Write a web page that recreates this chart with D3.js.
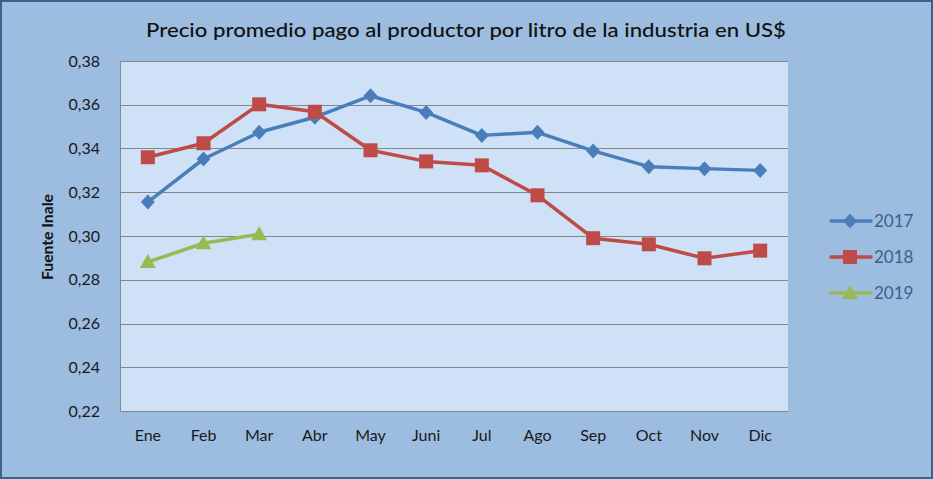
<!DOCTYPE html>
<html><head><meta charset="utf-8">
<script src="https://cdn.jsdelivr.net/npm/d3@7"></script>
<style>body{margin:0;background:#fff}svg{display:block}</style>
</head><body>
<script>
const months = ["Ene","Feb","Mar","Abr","May","Juni","Jul","Ago","Sep","Oct","Nov","Dic"];
const s2017 = [0.3155,0.3352,0.3474,0.3543,0.3641,0.3565,0.3460,0.3474,0.3389,0.3317,0.3308,0.3300];
const s2018 = [0.3360,0.3424,0.3602,0.3568,0.3392,0.3341,0.3323,0.3186,0.2990,0.2962,0.2898,0.2933];
const s2019 = [0.2881,0.2967,0.3008];
const yTicks = [0.22,0.24,0.26,0.28,0.30,0.32,0.34,0.36,0.38];
const seriesNames = ["2017","2018","2019"];
const title = "Precio promedio pago al productor por litro de la industria en US$";
const yTitle = "Fuente Inale";

const W=933,H=479;
const svg=d3.select("body").append("svg").attr("width",W).attr("height",H);
svg.append("rect").attr("x",1).attr("y",1).attr("width",W-2).attr("height",H-2)
  .attr("fill","#9cbce0").attr("stroke","#3b6190").attr("stroke-width",2);

const m={l:120,r:788,t:61,b:411};
const x=d3.scaleBand().domain(months).range([m.l,m.r]);
const y=d3.scaleLinear().domain([0.22,0.38]).range([m.b,m.t]);

svg.append("rect").attr("x",m.l).attr("y",m.t).attr("width",m.r-m.l).attr("height",m.b-m.t).attr("fill","#cfe1f6");

svg.append("g").selectAll("line").data(yTicks.filter(d=>d>0.22)).join("line")
  .attr("x1",m.l).attr("x2",m.r).attr("y1",d=>Math.round(y(d))+0.5).attr("y2",d=>Math.round(y(d))+0.5)
  .attr("stroke","#878787").attr("stroke-width",1);

const font="Lato, 'Open Sans', sans-serif";
const yAxis=svg.append("g").attr("transform",`translate(${m.l},0)`)
  .call(d3.axisLeft(y).tickValues(yTicks).tickSize(0).tickPadding(20).tickFormat(d=>d3.format(".2f")(d).replace(".",",")));
yAxis.select(".domain").attr("stroke","#878787");
yAxis.selectAll("text").attr("font-family",font).attr("font-size",16).attr("fill","#1a1a1a");

const xAxis=svg.append("g").attr("transform",`translate(0,${m.b})`)
  .call(d3.axisBottom(x).tickSize(0).tickPadding(19));
xAxis.select(".domain").attr("stroke","#878787");
xAxis.selectAll("text").attr("font-family",font).attr("font-size",16).attr("fill","#1a1a1a");

svg.append("text").attr("x",466).attr("y",37).attr("text-anchor","middle")
  .attr("font-family",font).attr("font-size",19).attr("font-weight",500)
  .attr("textLength",640).attr("lengthAdjust","spacingAndGlyphs").attr("fill","#111").text(title);

svg.append("text").attr("transform","translate(53,237) rotate(-90)").attr("text-anchor","middle")
  .attr("font-family",font).attr("font-size",15).attr("font-weight",700).attr("fill","#111")
  .attr("textLength",86).attr("lengthAdjust","spacingAndGlyphs").text(yTitle);

const colors=["#4a7ebb","#be4b48","#98b954"];
const data=[s2017,s2018,s2019];
const diamond={draw(c){c.moveTo(0,-7.5);c.lineTo(7,0);c.lineTo(0,7.5);c.lineTo(-7,0);c.closePath();}};
const square={draw(c){c.rect(-7,-7,14,14);}};
const tri={draw(c){c.moveTo(0,-8);c.lineTo(8,6);c.lineTo(-8,6);c.closePath();}};
const shapes=[diamond,square,tri];
const line=d3.line().x((d,i)=>x(months[i])+x.bandwidth()/2).y(d=>y(d));
data.forEach((s,k)=>{
  svg.append("path").datum(s).attr("d",line).attr("fill","none").attr("stroke",colors[k]).attr("stroke-width",3.5).attr("stroke-linejoin","round");
  svg.append("g").selectAll("path").data(s).join("path")
    .attr("transform",(d,i)=>`translate(${x(months[i])+x.bandwidth()/2},${y(d)})`)
    .attr("d",d3.symbol().type(shapes[k])).attr("fill",colors[k]);
});

const ly=[221,257,293];
seriesNames.forEach((n,k)=>{
  const g=svg.append("g");
  g.append("line").attr("x1",831).attr("x2",871).attr("y1",ly[k]).attr("y2",ly[k]).attr("stroke",colors[k]).attr("stroke-width",3.5).attr("stroke-linecap","round");
  g.append("path").attr("transform",`translate(850,${ly[k]})`).attr("d",d3.symbol().type(shapes[k])).attr("fill",colors[k]);
  g.append("text").attr("x",874).attr("y",ly[k]+6).attr("font-family",font).attr("font-size",17).attr("fill","#3d5f8c").text(n);
});
</script>
</body></html>
